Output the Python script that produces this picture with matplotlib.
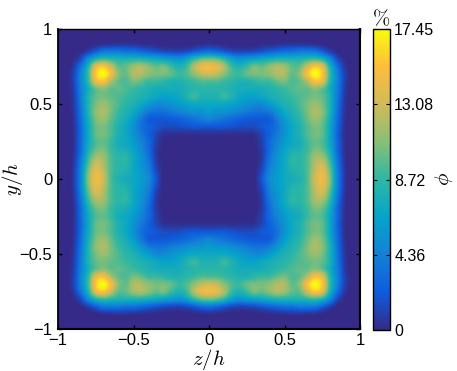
#Concentration map over the square duct cross section

import numpy as np
import matplotlib
matplotlib.use("Agg")
import matplotlib.pyplot as plt
from matplotlib.colors import LinearSegmentedColormap

plt.rcParams['font.family'] = ['Liberation Sans', 'DejaVu Sans']
plt.rcParams['mathtext.fontset'] = 'cm'

# values read by eye for one quadrant, rows are y = 0..1, columns are z = 0..1 (step 0.05)
quadrant = np.array([
    [0, 0, 0, 0, 0, 0, 0, 2, 5, 6, 7, 7.5, 8, 9.5, 13, 14.5, 11, 4.5, 0.6, 0, 0],
    [0, 0, 0, 0, 0, 0, 0, 1.5, 4.5, 6, 7, 8, 8.5, 9.5, 12.5, 14, 10.5, 4.5, 0.6, 0, 0],
    [0, 0, 0, 0, 0, 0, 0, 1, 4, 5.5, 7, 8.5, 8.5, 9.5, 12, 13, 9.5, 4, 0.5, 0, 0],
    [0, 0, 0, 0, 0, 0, 0, 0.8, 3.5, 5.5, 7, 8.5, 8.5, 9.5, 11.5, 11.5, 8.5, 3.5, 0.4, 0, 0],
    [0, 0, 0, 0, 0, 0, 0, 0.8, 3, 5, 6.5, 7.5, 8, 9, 10.5, 10, 7.5, 3, 0.3, 0, 0],
    [0, 0, 0, 0, 0, 0, 0.1, 1, 3, 4.5, 6, 7, 7.5, 9, 10, 9.5, 7, 3, 0.3, 0, 0],
    [0.3, 0.3, 0.3, 0.3, 0.3, 0.3, 0.4, 1.2, 2.5, 4, 5.5, 7, 8, 9.5, 10.5, 10, 7, 2.8, 0.3, 0, 0],
    [2, 2, 2, 1.8, 1.5, 1.5, 1.5, 2, 2.5, 3.5, 5.5, 7, 8, 9.5, 10.5, 10, 7, 3, 0.3, 0, 0],
    [4.5, 4, 3.5, 3, 2.5, 2.2, 2, 2, 2.2, 4, 6, 7.5, 8.5, 10, 11.5, 10.5, 7.5, 3.2, 0.4, 0, 0],
    [6, 5.5, 5.5, 5, 4.5, 4, 3.5, 3.5, 4, 5.5, 7, 8, 9, 10.5, 12, 11, 8, 3.5, 0.5, 0, 0],
    [7, 7, 7, 6.5, 6, 5.5, 5, 5, 6, 7, 8, 8.5, 9.5, 10.5, 11.5, 10.5, 8, 3.8, 0.6, 0, 0],
    [8, 8, 9, 8, 7, 6.5, 6.5, 7, 7.5, 8, 8.5, 9, 9.5, 10, 10.5, 10, 8, 4, 0.7, 0, 0],
    [8.5, 8.5, 8.5, 8, 7.5, 7.5, 7.5, 7.5, 8, 8.5, 9, 9.5, 10, 10, 11, 10, 7.5, 4.2, 0.8, 0, 0],
    [9.5, 9.5, 9, 8.5, 8, 8, 8.5, 9, 9, 10, 10.5, 9.5, 10, 12, 15, 14, 8.5, 4.5, 1, 0, 0],
    [13, 12.5, 11, 9.5, 9, 10, 10.5, 10.5, 11, 12, 12, 10, 11, 15, 17.45, 15.5, 9, 4.5, 1, 0, 0],
    [14.5, 14, 12, 9, 8, 9, 10.5, 10, 11, 12, 11.5, 10, 10, 13, 15.5, 14, 8, 3.5, 0.6, 0, 0],
    [10.5, 10, 8.5, 6.5, 5.5, 6, 6.5, 7, 7.5, 8, 8, 8, 8, 8.5, 9, 8, 5, 1.5, 0.1, 0, 0],
    [3.5, 3, 2.2, 1.5, 1.2, 1.3, 1.5, 2, 2.5, 3, 3.5, 3.5, 4, 4, 3.8, 2.5, 1, 0.1, 0, 0, 0],
    [0.3, 0.2, 0.1, 0, 0, 0, 0, 0.1, 0.2, 0.3, 0.4, 0.5, 0.5, 0.4, 0.3, 0.1, 0, 0, 0, 0, 0],
    [0, 0, 0, 0, 0, 0, 0, 0, 0, 0, 0, 0, 0, 0, 0, 0, 0, 0, 0, 0, 0],
    [0, 0, 0, 0, 0, 0, 0, 0, 0, 0, 0, 0, 0, 0, 0, 0, 0, 0, 0, 0, 0],
], dtype=float)
phi_ticks = [0, 4.36, 8.72, 13.08, 17.45]
phi_ticklabels = ['0', '4.36', '8.72', '13.08', '17.45']
axis_ticks = [-1, -0.5, 0, 0.5, 1]
axis_ticklabels = ['\u22121', '\u22120.5', '0', '0.5', '1']

parula_colors = ['#352a87', '#0f5cdd', '#1481d6', '#06a4ca', '#2eb7a4',
                 '#87bf77', '#d1bb59', '#fdbd3c', '#f9fb0e']
parula = LinearSegmentedColormap.from_list('parula', parula_colors)

# the four quadrants look alike so the one table is mirrored
top = np.hstack([quadrant[:, :0:-1], quadrant])
field = np.vstack([top[:0:-1], top])

W, H = 457, 371
fig = plt.figure(figsize=(W / 100, H / 100), dpi=100)
ax = fig.add_axes([58 / W, 1 - 329 / H, 302 / W, 300 / H])
im = ax.imshow(field, origin='lower', extent=[-1.025, 1.025, -1.025, 1.025],
               cmap=parula, vmin=0, vmax=17.45, interpolation='catrom', aspect='auto')
ax.set_xlim(-1, 1)
ax.set_ylim(-1, 1)
ax.set_xticks(axis_ticks)
ax.set_xticklabels(axis_ticklabels)
ax.set_yticks(axis_ticks)
ax.set_yticklabels(axis_ticklabels)
ax.tick_params(direction='in', length=3, width=1, top=True, right=True, labelsize=12, color='black')
ax.tick_params(axis='x', pad=3)
ax.tick_params(axis='y', pad=4)
ax.set_xlabel(r'$z/h$', fontsize=15, labelpad=-1)
ax.set_ylabel(r'$y/h$', fontsize=15, labelpad=-4)
ax.spines['top'].set_linewidth(1.0)
ax.spines['left'].set_linewidth(1.3)
ax.spines['right'].set_linewidth(1.5)
ax.spines['bottom'].set_linewidth(1.5)

cax = fig.add_axes([373 / W, 1 - 330 / H, 17 / W, 301 / H])
cb = fig.colorbar(im, cax=cax, ticks=phi_ticks)
cb.ax.set_yticklabels(phi_ticklabels)
cb.ax.tick_params(direction='in', length=3, width=0.8, left=True, right=True, labelsize=11.5, pad=3)
cb.outline.set_linewidth(1)
cb.set_label(r'$\phi$', fontsize=15, labelpad=-1)
cax.set_title(r'$\%$', fontsize=15, pad=3)

fig.savefig('out.png', dpi=100)
